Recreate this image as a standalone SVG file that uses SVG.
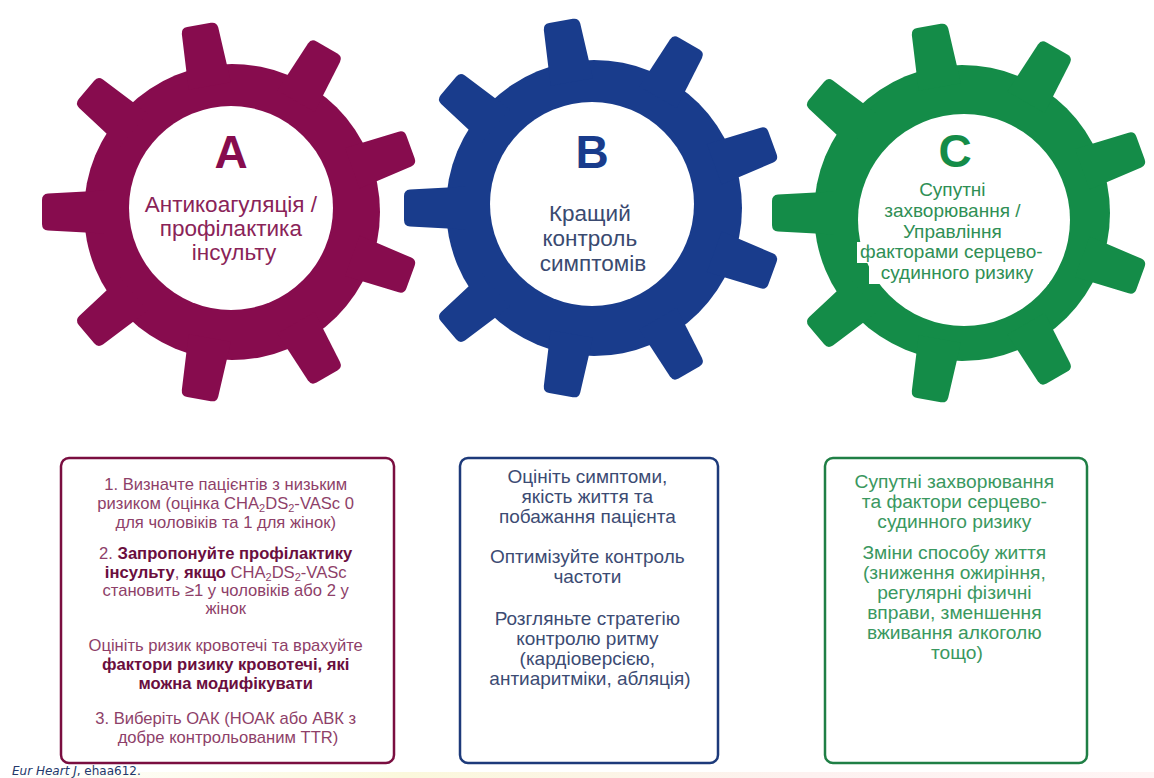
<svg xmlns="http://www.w3.org/2000/svg" xmlns:xlink="http://www.w3.org/1999/xlink" width="1154" height="778" viewBox="0 0 1154 778">
  <style>
    .lbl { font-family: "Liberation Sans", Arial, sans-serif; text-anchor: middle; }
    .big { font-weight: bold; font-size: 46px; }
    .ga { fill: #870C4E; }
    .gb { fill: #193C8C; }
    .gc { fill: #148C48; }
    .box { fill: #ffffff; stroke-width: 2.5; }
    .ta { fill: #8E3F69; font-size: 16.6px; }
    .tab { font-weight: bold; fill: #6A0E3E; }
    .tb { fill: #3C4B73; font-size: 19px; }
    .tc { fill: #3A9860; font-size: 19.2px; }
    .cite { font-family: "DejaVu Sans", Verdana, sans-serif; font-size: 12px; fill: #23386B; }
  </style>
  <defs>
    <!-- one tooth pointing along +x, slightly tapered with rounded tip -->
    <path id="tooth" d="M128,-21.5 L184,-18.5 Q190,-18 190,-12 L190,12 Q190,18 184,18.5 L128,21.5 Z"/>
    <!-- gear outline: rim plus nine teeth, one tooth pointing left -->
    <g id="gear">
      <circle r="148"/>
      <use xlink:href="#tooth" transform="rotate(180)"/>
      <use xlink:href="#tooth" transform="rotate(220)"/>
      <use xlink:href="#tooth" transform="rotate(260)"/>
      <use xlink:href="#tooth" transform="rotate(300)"/>
      <use xlink:href="#tooth" transform="rotate(340)"/>
      <use xlink:href="#tooth" transform="rotate(20)"/>
      <use xlink:href="#tooth" transform="rotate(60)"/>
      <use xlink:href="#tooth" transform="rotate(100)"/>
      <use xlink:href="#tooth" transform="rotate(140)"/>
    </g>
    <linearGradient id="strip" x1="0" x2="1" y1="0" y2="0">
      <stop offset="0" stop-color="#ffffff"/>
      <stop offset="0.35" stop-color="#FBF8DC"/>
      <stop offset="0.7" stop-color="#FDF1F0"/>
      <stop offset="1" stop-color="#FFF4F4"/>
    </linearGradient>
  </defs>

  <rect width="1154" height="778" fill="#ffffff"/>
  <rect x="0" y="772" width="1154" height="6" fill="url(#strip)"/>

  <!-- gear A -->
  <g id="gear-a">
    <use xlink:href="#gear" class="ga" transform="translate(232,212)"/>
    <circle cx="231" cy="208" r="102" fill="#ffffff"/>
    <text class="lbl big" x="231" y="168" fill="#870C4E">A</text>
    <text class="lbl" font-size="22.5" fill="#8A2358">
      <tspan x="234" y="212">Антикоагуляція /</tspan>
      <tspan x="234" y="236">профілактика</tspan>
      <tspan x="234" y="260">інсульту</tspan>
    </text>
  </g>

  <!-- gear B -->
  <g id="gear-b">
    <use xlink:href="#gear" class="gb" transform="translate(594,208)"/>
    <circle cx="592" cy="204" r="102" fill="#ffffff"/>
    <text class="lbl big" x="592" y="168" fill="#193C8C">B</text>
    <text class="lbl" font-size="22.5" fill="#3A4A70">
      <tspan x="593" y="221">Кращий</tspan>
      <tspan x="593" y="246">контроль</tspan>
      <tspan x="593" y="271">симптомів</tspan>
    </text>
  </g>

  <!-- gear C -->
  <g id="gear-c">
    <use xlink:href="#gear" class="gc" transform="translate(962,213)"/>
    <circle cx="964" cy="220" r="106" fill="#ffffff"/>
    <rect x="857" y="242" width="194" height="21" fill="#ffffff"/>
    <rect x="869" y="263" width="180" height="21" fill="#ffffff"/>
    <text class="lbl big" x="955" y="167" fill="#148C48">C</text>
    <text class="lbl" font-size="19" fill="#2F8F55">
      <tspan x="955" y="196">Супутні</tspan>
      <tspan x="955" y="217">захворювання /</tspan>
      <tspan x="955" y="238">Управління</tspan>
      <tspan x="954" y="258">факторами серцево-</tspan>
      <tspan x="957" y="279">судинного ризику</tspan>
    </text>
  </g>

  <!-- box A -->
  <g id="box-a">
    <rect class="box" x="61" y="458" width="333" height="305" rx="8" stroke="#7A0E40"/>
    <text class="lbl ta">
      <tspan x="228" y="490">1. Визначте пацієнтів з низьким</tspan>
      <tspan x="228" y="509">ризиком (оцінка CHA<tspan font-size="11" dy="3">2</tspan><tspan dy="-3">DS</tspan><tspan font-size="11" dy="3">2</tspan><tspan dy="-3">-VASc 0</tspan></tspan>
      <tspan x="228" y="528">для чоловіків та 1 для жінок)</tspan>
      <tspan x="228" y="559">2. <tspan class="tab">Запропонуйте профілактику</tspan></tspan>
      <tspan x="228" y="578"><tspan class="tab">інсульту</tspan>, <tspan class="tab">якщо</tspan> CHA<tspan font-size="11" dy="3">2</tspan><tspan dy="-3">DS</tspan><tspan font-size="11" dy="3">2</tspan><tspan dy="-3">-VASc</tspan></tspan>
      <tspan x="228" y="596">становить ≥1 у чоловіків або 2 у</tspan>
      <tspan x="228" y="614">жінок</tspan>
      <tspan x="228" y="651">Оцініть ризик кровотечі та врахуйте</tspan>
      <tspan x="228" y="670" class="tab">фактори ризику кровотечі, які</tspan>
      <tspan x="228" y="689" class="tab">можна модифікувати</tspan>
      <tspan x="228" y="724">3. Виберіть ОАК (НОАК або АВК з</tspan>
      <tspan x="228" y="743">добре контрольованим TTR)</tspan>
    </text>
  </g>

  <!-- box B -->
  <g id="box-b">
    <rect class="box" x="460" y="458" width="258" height="305" rx="8" stroke="#1D3A7A"/>
    <text class="lbl tb">
      <tspan x="590" y="483">Оцініть симптоми,</tspan>
      <tspan x="590" y="503">якість життя та</tspan>
      <tspan x="590" y="523">побажання пацієнта</tspan>
      <tspan x="590" y="563">Оптимізуйте контроль</tspan>
      <tspan x="590" y="583">частоти</tspan>
      <tspan x="590" y="625">Розгляньте стратегію</tspan>
      <tspan x="590" y="645">контролю ритму</tspan>
      <tspan x="590" y="665">(кардіоверсією,</tspan>
      <tspan x="590" y="685">антиаритміки, абляція)</tspan>
    </text>
  </g>

  <!-- box C -->
  <g id="box-c">
    <rect class="box" x="825" y="458" width="262" height="305" rx="8" stroke="#1F7F45"/>
    <text class="lbl tc">
      <tspan x="957" y="488">Супутні захворювання</tspan>
      <tspan x="957" y="508">та фактори серцево-</tspan>
      <tspan x="957" y="528">судинного ризику</tspan>
      <tspan x="957" y="559">Зміни способу життя</tspan>
      <tspan x="957" y="579">(зниження ожиріння,</tspan>
      <tspan x="957" y="599">регулярні фізичні</tspan>
      <tspan x="957" y="619">вправи, зменшення</tspan>
      <tspan x="957" y="639">вживання алкоголю</tspan>
      <tspan x="957" y="659">тощо)</tspan>
    </text>
  </g>

  <!-- connectors: none drawn between nodes -->
  <g id="connectors"/>

  <text class="cite" x="12" y="775"><tspan font-style="italic">Eur Heart J</tspan>, ehaa612.</text>
</svg>
